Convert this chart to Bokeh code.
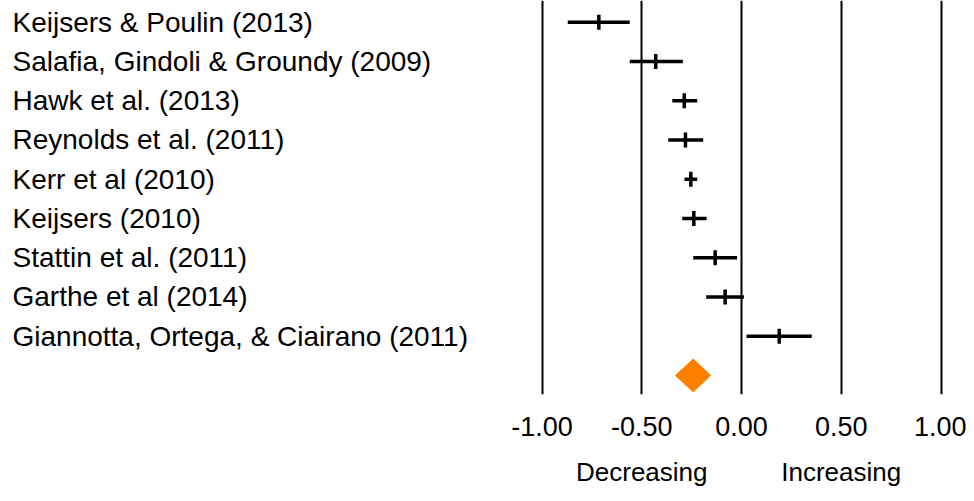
from bokeh.plotting import figure
from bokeh.models import Range1d, FixedTicker, LinearAxis, NumeralTickFormatter, ColumnDataSource
from bokeh.core.properties import value
from bokeh.embed import file_html
from bokeh.resources import INLINE

# ---- data ----
studies = [
    "Keijsers & Poulin (2013)",
    "Salafia, Gindoli & Groundy (2009)",
    "Hawk et al. (2013)",
    "Reynolds et al. (2011)",
    "Kerr et al (2010)",
    "Keijsers (2010)",
    "Stattin et al. (2011)",
    "Garthe et al (2014)",
    "Giannotta, Ortega, & Ciairano (2011)",
]
estimate = [-0.715, -0.43, -0.287, -0.281, -0.254, -0.239, -0.132, -0.082, 0.189]
ci_low = [-0.871, -0.560, -0.347, -0.367, -0.286, -0.297, -0.242, -0.177, 0.025]
ci_high = [-0.560, -0.294, -0.222, -0.192, -0.222, -0.175, -0.022, 0.012, 0.352]
summary_estimate = -0.242
summary_low = -0.331
summary_high = -0.155
tick_values = [-1.0, -0.5, 0.0, 0.5, 1.0]
direction_ticks = [-0.5, 0.5]
direction_labels = ["Decreasing", "Increasing"]

FONT = "Liberation Sans"
LABEL_FS = "28px"
TICK_FS = "27px"
DIR_FS = "26px"

W, H = 966, 493
FRAME_H = 394
zero_px = 741.0
px_per_unit = 199.5
row0_px = 21.7
row_px = 39.25

x_start = -zero_px / px_per_unit
x_end = (W - zero_px) / px_per_unit
y_top = -row0_px / row_px
y_bottom = (FRAME_H - row0_px) / row_px

p = figure(width=W, height=H, output_backend="svg", toolbar_location=None,
           x_range=Range1d(x_start, x_end), y_range=Range1d(y_bottom, y_top),
           min_border_left=0, min_border_right=0, min_border_top=0,
           min_border_bottom=H - FRAME_H, x_axis_location=None, y_axis_location=None)
p.outline_line_color = None
p.background_fill_color = "white"
p.border_fill_color = "white"

ticker = FixedTicker(ticks=tick_values)
xaxis = LinearAxis(ticker=ticker, formatter=NumeralTickFormatter(format="0.00"))
xaxis.axis_line_color = None
xaxis.major_tick_line_color = None
xaxis.minor_tick_line_color = None
xaxis.major_label_text_font = FONT
xaxis.major_label_text_font_size = TICK_FS
xaxis.major_label_text_color = "black"
xaxis.major_label_standoff = 16
p.add_layout(xaxis, "below")

dir_axis = LinearAxis(ticker=FixedTicker(ticks=direction_ticks),
                      major_label_overrides={t: l for t, l in zip(direction_ticks, direction_labels)})
dir_axis.axis_line_color = None
dir_axis.major_tick_line_color = None
dir_axis.minor_tick_line_color = None
dir_axis.major_label_text_font = FONT
dir_axis.major_label_text_font_size = DIR_FS
dir_axis.major_label_text_color = "black"
dir_axis.major_label_standoff = 12
p.add_layout(dir_axis, "below")

p.xgrid.ticker = ticker
p.xgrid.grid_line_color = "black"
p.xgrid.grid_line_width = 2
p.xgrid.grid_line_alpha = 1
p.ygrid.visible = False

rows = list(range(len(studies)))
src = ColumnDataSource(dict(study=studies, est=estimate, lo=ci_low, hi=ci_high, y=rows,
                            ytop=[r - 0.19 for r in rows], ybot=[r + 0.19 for r in rows],
                            lx=[(12 - zero_px) / px_per_unit] * len(rows)))

p.segment(x0="lo", x1="hi", y0="y", y1="y", source=src, line_color="black", line_width=3.5)
p.segment(x0="est", x1="est", y0="ytop", y1="ybot", source=src, line_color="black", line_width=3.5)

sy = len(studies)
p.patch(x=[summary_low, summary_estimate, summary_high, summary_estimate],
        y=[sy, sy - 0.42, sy, sy + 0.42], fill_color="#FF8000", line_color="#FF8000", line_width=1)

p.text(x="lx", y="y", text="study", source=src, text_font=value(FONT), text_font_size=LABEL_FS,
       text_align="left", text_baseline="middle", text_color="black")

open("out.html", "w").write(file_html(p, INLINE))
